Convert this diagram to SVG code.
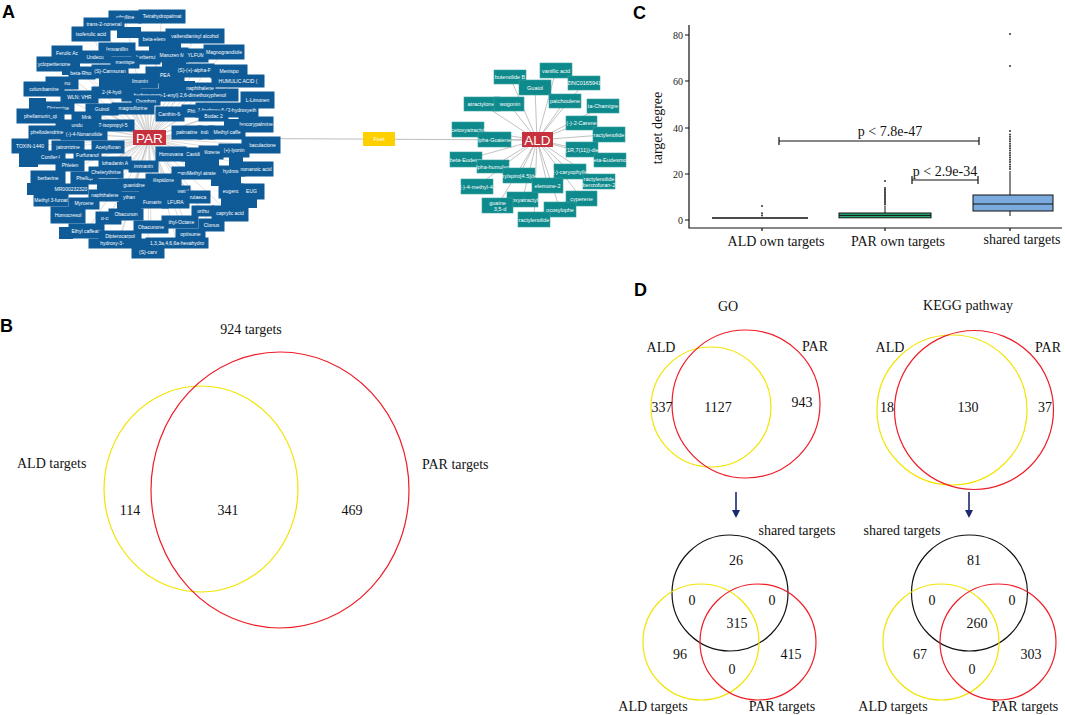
<svg xmlns="http://www.w3.org/2000/svg" width="1065" height="715" viewBox="0 0 1065 715">
<style>
.pb{fill:#0f5b97;stroke:#0f5b97;stroke-width:3}
.pf{fill:#0f5b97;stroke:#0f5b97;stroke-width:2}
.ab{fill:#0f8a8c;stroke:#3aa0a2;stroke-width:0.6}
.nt{fill:#fff;font-family:"Liberation Sans",Arial,sans-serif;font-size:5px;text-anchor:middle}
.at{fill:#fff;font-family:"Liberation Sans",Arial,sans-serif;font-size:5.5px;text-anchor:middle}
.hub{fill:#c7313d}
.ht{fill:#fff;font-family:"Liberation Sans",Arial,sans-serif;font-size:13.5px;text-anchor:middle}
.e line{stroke:#c6c6c6;stroke-width:0.6}
.ea line{stroke:#b2b2b2;stroke-width:0.8}
.lbl{font-family:"Liberation Sans",Arial,sans-serif;font-weight:bold;font-size:18px;fill:#000}
.s{font-family:"Liberation Serif","Times New Roman",serif;font-size:14px;fill:#111}
.t{font-family:"Liberation Serif","Times New Roman",serif;font-size:10px;fill:#222;text-anchor:end}
.c{text-anchor:middle}
.vy{fill:none;stroke:#f2e400;stroke-width:1.2}
.vr{fill:none;stroke:#ee1d27;stroke-width:1.2}
.vk{fill:none;stroke:#111;stroke-width:1.2}
.ax{stroke:#111;stroke-width:1.2;fill:none}
.dot{fill:#333}
</style>
<defs>
<marker id="ah" viewBox="0 0 10 10" refX="5" refY="5" markerWidth="5" markerHeight="5" orient="auto"><path d="M0 0L10 5L0 10z" fill="#1c2870"/></marker>
</defs>

<text class="lbl" x="2" y="18">A</text>
<text class="lbl" x="0" y="332">B</text>
<text class="lbl" x="633" y="19">C</text>
<text class="lbl" x="634" y="296">D</text>

<g id="connectors">
<line x1="160" y1="138" x2="530" y2="140" stroke="#bdbdbd" stroke-width="1"/>
<g class="e">
<line x1="149" y1="138" x2="125" y2="17"/><line x1="149" y1="138" x2="162" y2="16.5"/><line x1="149" y1="138" x2="104" y2="24"/><line x1="149" y1="138" x2="91" y2="34"/><line x1="149" y1="138" x2="158" y2="39"/><line x1="149" y1="138" x2="195" y2="36"/><line x1="149" y1="138" x2="117" y2="49.5"/><line x1="149" y1="138" x2="67" y2="53.5"/><line x1="149" y1="138" x2="95" y2="57"/><line x1="149" y1="138" x2="146" y2="57.5"/><line x1="149" y1="138" x2="172" y2="55"/><line x1="149" y1="138" x2="196" y2="55.5"/><line x1="149" y1="138" x2="224" y2="52"/><line x1="149" y1="138" x2="54" y2="64"/><line x1="149" y1="138" x2="125" y2="62.5"/><line x1="149" y1="138" x2="82" y2="73"/><line x1="149" y1="138" x2="110" y2="71.5"/><line x1="149" y1="138" x2="165" y2="75"/><line x1="149" y1="138" x2="195" y2="70.5"/><line x1="149" y1="138" x2="229" y2="71.5"/><line x1="149" y1="138" x2="238" y2="81"/><line x1="149" y1="138" x2="62" y2="83"/><line x1="149" y1="138" x2="44" y2="89"/><line x1="149" y1="138" x2="140" y2="81"/><line x1="149" y1="138" x2="79.5" y2="97"/><line x1="149" y1="138" x2="116" y2="92.5"/><line x1="149" y1="138" x2="200" y2="87.5"/><line x1="149" y1="138" x2="180" y2="95"/><line x1="149" y1="138" x2="146" y2="100"/><line x1="149" y1="138" x2="257.5" y2="100"/><line x1="149" y1="138" x2="58" y2="108"/><line x1="149" y1="138" x2="102" y2="109.5"/><line x1="149" y1="138" x2="133" y2="108"/><line x1="149" y1="138" x2="170" y2="114"/><line x1="149" y1="138" x2="193" y2="111"/><line x1="149" y1="138" x2="227" y2="110"/><line x1="149" y1="138" x2="213.5" y2="116"/><line x1="149" y1="138" x2="40.5" y2="116"/><line x1="149" y1="138" x2="86.5" y2="117.5"/><line x1="149" y1="138" x2="256" y2="124.5"/><line x1="149" y1="138" x2="77" y2="125"/><line x1="149" y1="138" x2="113" y2="125.5"/><line x1="149" y1="138" x2="84" y2="134"/><line x1="149" y1="138" x2="47" y2="132.5"/><line x1="149" y1="138" x2="187" y2="132.5"/><line x1="149" y1="138" x2="206" y2="132.5"/><line x1="149" y1="138" x2="227" y2="132.5"/><line x1="149" y1="138" x2="30" y2="146"/><line x1="149" y1="138" x2="68" y2="147"/><line x1="149" y1="138" x2="108" y2="147"/><line x1="149" y1="138" x2="261" y2="145"/><line x1="149" y1="138" x2="234" y2="150.5"/><line x1="149" y1="138" x2="211" y2="152.5"/><line x1="149" y1="138" x2="193" y2="154.5"/><line x1="149" y1="138" x2="171" y2="154"/><line x1="149" y1="138" x2="50.5" y2="157.5"/><line x1="149" y1="138" x2="87.5" y2="155"/><line x1="149" y1="138" x2="70" y2="165"/><line x1="149" y1="138" x2="115" y2="163"/><line x1="149" y1="138" x2="143.5" y2="166.5"/><line x1="149" y1="138" x2="196.5" y2="173"/><line x1="149" y1="138" x2="232" y2="171"/><line x1="149" y1="138" x2="256" y2="169"/><line x1="149" y1="138" x2="48" y2="178"/><line x1="149" y1="138" x2="84.5" y2="178"/><line x1="149" y1="138" x2="106" y2="172.5"/><line x1="149" y1="138" x2="163.5" y2="180"/><line x1="149" y1="138" x2="134" y2="185"/><line x1="149" y1="138" x2="71" y2="189"/><line x1="149" y1="138" x2="105" y2="195.5"/><line x1="149" y1="138" x2="231" y2="191"/><line x1="149" y1="138" x2="251.5" y2="191.5"/><line x1="149" y1="138" x2="183" y2="191.5"/><line x1="149" y1="138" x2="198" y2="197"/><line x1="149" y1="138" x2="51" y2="200"/><line x1="149" y1="138" x2="84" y2="203.5"/><line x1="149" y1="138" x2="129" y2="197"/><line x1="149" y1="138" x2="153.5" y2="202"/><line x1="149" y1="138" x2="175.5" y2="202"/><line x1="149" y1="138" x2="68" y2="215"/><line x1="149" y1="138" x2="108.5" y2="218"/><line x1="149" y1="138" x2="126" y2="214.5"/><line x1="149" y1="138" x2="203" y2="211"/><line x1="149" y1="138" x2="230" y2="213.5"/><line x1="149" y1="138" x2="180" y2="222"/><line x1="149" y1="138" x2="211.5" y2="225"/><line x1="149" y1="138" x2="151" y2="227"/><line x1="149" y1="138" x2="86.5" y2="231"/><line x1="149" y1="138" x2="120" y2="236.5"/><line x1="149" y1="138" x2="119" y2="243"/><line x1="149" y1="138" x2="177" y2="242.5"/><line x1="149" y1="138" x2="190.5" y2="234.5"/><line x1="149" y1="138" x2="148" y2="252"/>
</g>
<g class="ea">
<line x1="537" y1="140" x2="510" y2="77"/><line x1="537" y1="140" x2="556" y2="70.5"/><line x1="537" y1="140" x2="535" y2="87.5"/><line x1="537" y1="140" x2="584" y2="83"/><line x1="537" y1="140" x2="482" y2="104"/><line x1="537" y1="140" x2="509" y2="104"/><line x1="537" y1="140" x2="565" y2="101"/><line x1="537" y1="140" x2="603" y2="106"/><line x1="537" y1="140" x2="581.5" y2="123"/><line x1="537" y1="140" x2="609" y2="134.5"/><line x1="537" y1="140" x2="582" y2="149.5"/><line x1="537" y1="140" x2="610" y2="160"/><line x1="537" y1="140" x2="468" y2="129.5"/><line x1="537" y1="140" x2="494.5" y2="139.5"/><line x1="537" y1="140" x2="466" y2="159.5"/><line x1="537" y1="140" x2="493" y2="166.5"/><line x1="537" y1="140" x2="477" y2="186.5"/><line x1="537" y1="140" x2="519" y2="175.5"/><line x1="537" y1="140" x2="570" y2="171.5"/><line x1="537" y1="140" x2="599" y2="181.5"/><line x1="537" y1="140" x2="547.5" y2="185.5"/><line x1="537" y1="140" x2="522.5" y2="199.5"/><line x1="537" y1="140" x2="497.5" y2="205.5"/><line x1="537" y1="140" x2="581.5" y2="198.5"/><line x1="537" y1="140" x2="560" y2="209.5"/><line x1="537" y1="140" x2="534" y2="219.5"/>
</g>
<line x1="736" y1="492" x2="736" y2="514" stroke="#1c2870" stroke-width="1.6" marker-end="url(#ah)"/>
<line x1="969" y1="492" x2="969" y2="514" stroke="#1c2870" stroke-width="1.6" marker-end="url(#ah)"/>
</g>

<g id="par-fill">
<rect class="pf" x="150" y="43" width="30" height="8"/>
<rect class="pf" x="118" y="28" width="22" height="9"/>
<rect class="pf" x="30" y="99" width="15" height="10"/>
<rect class="pf" x="160" y="82" width="34" height="7"/>
<rect class="pf" x="100" y="77" width="22" height="11"/>
<rect class="pf" x="163" y="59" width="22" height="8"/>
<rect class="pf" x="20" y="154" width="17" height="12"/>
<rect class="pf" x="28" y="184" width="26" height="10"/>
<rect class="pf" x="98" y="180" width="22" height="10"/>
<rect class="pf" x="118" y="203" width="22" height="8"/>
<rect class="pf" x="140" y="187" width="36" height="9"/>
<rect class="pf" x="212" y="175" width="28" height="10"/>
<rect class="pf" x="222" y="197" width="34" height="10"/>
<rect class="pf" x="60" y="228" width="12" height="10"/>
<rect class="pf" x="186" y="160" width="32" height="8"/>
<rect class="pf" x="225" y="120" width="16" height="12"/>
<rect class="pf" x="63" y="62" width="16" height="12"/>
<rect class="pf" x="230" y="157" width="12" height="10"/>
</g>

<g id="par-nodes">
<g id="p1"><rect class="pb" x="110" y="12" width="30" height="10"/><text class="nt" x="125" y="18.8">ethylline</text></g>
<g id="p2"><rect class="pb" x="140" y="11" width="44" height="11"/><text class="nt" x="162" y="18.3">Tetrahydropalmat</text></g>
<g id="p3"><rect class="pb" x="85" y="19" width="38" height="10"/><text class="nt" x="104" y="25.8">trans-2-nonenal</text></g>
<g id="p4"><rect class="pb" x="73" y="28" width="36" height="12"/><text class="nt" x="91" y="35.8">isoferulic acid</text></g>
<g id="p5"><rect class="pb" x="140" y="33" width="36" height="12"/><text class="nt" x="158" y="40.8">beta-elemene</text></g>
<g id="p6"><rect class="pb" x="167" y="30" width="56" height="12"/><text class="nt" x="195" y="37.8">valtendianisyl alcohol</text></g>
<g id="p7"><rect class="pb" x="100" y="44" width="34" height="11"/><text class="nt" x="117" y="51.3">Isovanillin</text></g>
<g id="p8"><rect class="pb" x="53" y="47" width="28" height="13"/><text class="nt" x="67" y="55.3">Ferulic Ac</text></g>
<g id="p9"><rect class="pb" x="80" y="52" width="30" height="10"/><text class="nt" x="95" y="58.8">Undecu</text></g>
<g id="p10"><rect class="pb" x="133" y="52" width="26" height="11"/><text class="nt" x="146" y="59.3">berberrul</text></g>
<g id="p11"><rect class="pb" x="157" y="49" width="30" height="12"/><text class="nt" x="172" y="56.8">Maruzen M</text></g>
<g id="p12"><rect class="pb" x="185" y="50" width="22" height="11"/><text class="nt" x="196" y="57.3">YLFUM</text></g>
<g id="p13"><rect class="pb" x="205" y="46" width="38" height="12"/><text class="nt" x="224" y="53.8">Magnograndiole</text></g>
<g id="p14"><rect class="pb" x="38" y="58" width="32" height="12"/><text class="nt" x="54" y="65.8">ycloperitenone</text></g>
<g id="p15"><rect class="pb" x="112" y="58" width="26" height="9"/><text class="nt" x="125" y="64.3">menispe</text></g>
<g id="p16"><rect class="pb" x="70" y="68" width="24" height="10"/><text class="nt" x="82" y="74.8">beta-Rhod</text></g>
<g id="p17"><rect class="pb" x="93" y="66" width="34" height="11"/><text class="nt" x="110" y="73.3">(S)-Camsuran</text></g>
<g id="p18"><rect class="pb" x="147" y="68" width="36" height="14"/><text class="nt" x="165" y="76.8">PEA</text></g>
<g id="p19"><rect class="pb" x="177" y="65" width="36" height="11"/><text class="nt" x="195" y="72.3">(S)-(+)-alpha-Pi</text></g>
<g id="p20"><rect class="pb" x="212" y="66" width="34" height="11"/><text class="nt" x="229" y="73.3">Menispo</text></g>
<g id="p21"><rect class="pb" x="213" y="76" width="50" height="10"/><text class="nt" x="238" y="82.8">HUMULIC ACID (</text></g>
<g id="p22"><rect class="pb" x="47" y="78" width="30" height="10"/><text class="nt" x="62" y="84.8">paeonu</text></g>
<g id="p23"><rect class="pb" x="25" y="83" width="38" height="12"/><text class="nt" x="44" y="90.8">columbamine</text></g>
<g id="p24"><rect class="pb" x="123" y="75" width="34" height="12"/><text class="nt" x="140" y="82.8">limonin</text></g>
<g id="p25"><rect class="pb" x="62" y="92" width="35" height="10"/><text class="nt" x="79.5" y="98.8">WLN: VHR</text></g>
<g id="p26"><rect class="pb" x="93" y="88" width="46" height="9"/><text class="nt" x="116" y="94.3">2-(4-hydroxy</text></g>
<g id="p28"><rect class="pb" x="123" y="90" width="114" height="10"/><text class="nt" x="180" y="97.3">hydroxyprop-1-enyl) 2,6-dimethoxyphenol</text></g>
<g id="p27"><rect class="pb" x="186" y="84" width="28" height="7"/><text class="nt" x="200" y="89.6">naphthalene</text></g>
<g id="p29"><rect class="pb" x="133" y="97" width="26" height="7"/><text class="nt" x="146" y="102.8">Oxophon</text></g>
<g id="p30"><rect class="pb" x="242" y="93" width="31" height="14"/><text class="nt" x="257.5" y="101.8">L-Limonen</text></g>
<g id="p31"><rect class="pb" x="43" y="103" width="30" height="10"/><text class="nt" x="58" y="109.8">Dictamine</text></g>
<g id="p32"><rect class="pb" x="87" y="105" width="30" height="9"/><text class="nt" x="102" y="111.3">Guinol</text></g>
<g id="p33"><rect class="pb" x="113" y="104" width="40" height="9"/><text class="nt" x="133" y="110.3">magnoflorine</text></g>
<g id="p34"><rect class="pb" x="157" y="108" width="26" height="12"/><text class="nt" x="170" y="115.8">Canthin-6-</text></g>
<g id="p35"><rect class="pb" x="183" y="106" width="20" height="10"/><text class="nt" x="193" y="112.8">Phlor</text></g>
<g id="p36"><rect class="pb" x="197" y="104" width="60" height="12"/><text class="nt" x="227" y="111.8">1-hydroxy-6-(2-hydroxyeth</text></g>
<g id="p37"><rect class="pb" x="200" y="112" width="27" height="8"/><text class="nt" x="213.5" y="117.8">Bodac 2</text></g>
<g id="p38"><rect class="pb" x="18" y="110" width="45" height="12"/><text class="nt" x="40.5" y="117.8">phellamurin_qt</text></g>
<g id="p39"><rect class="pb" x="73" y="113" width="27" height="9"/><text class="nt" x="86.5" y="119.3">Mnk</text></g>
<g id="p40"><rect class="pb" x="240" y="118" width="32" height="13"/><text class="nt" x="256" y="126.3">Isocorypalmine</text></g>
<g id="p41"><rect class="pb" x="57" y="121" width="40" height="8"/><text class="nt" x="77" y="126.8">undu</text></g>
<g id="p42"><rect class="pb" x="93" y="121" width="40" height="9"/><text class="nt" x="113" y="127.3">7-isopropyl-5</text></g>
<g id="p43"><rect class="pb" x="62" y="129" width="44" height="10"/><text class="nt" x="84" y="135.8">(-)-4-Nonanolide</text></g>
<g id="p44"><rect class="pb" x="30" y="127" width="34" height="11"/><text class="nt" x="47" y="134.3">phellodendrine</text></g>
<g id="p45"><rect class="pb" x="173" y="127" width="28" height="11"/><text class="nt" x="187" y="134.3">palmatine</text></g>
<g id="p46"><rect class="pb" x="199" y="127" width="14" height="11"/><text class="nt" x="206" y="134.3">indol</text></g>
<g id="p47"><rect class="pb" x="210" y="127" width="34" height="11"/><text class="nt" x="227" y="134.3">Methyl caffe</text></g>
<g id="p48"><rect class="pb" x="13" y="140" width="34" height="12"/><text class="nt" x="30" y="147.8">TOXIN-1440</text></g>
<g id="p49"><rect class="pb" x="53" y="142" width="30" height="10"/><text class="nt" x="68" y="148.8">jatrorrizine</text></g>
<g id="p50"><rect class="pb" x="93" y="142" width="30" height="10"/><text class="nt" x="108" y="148.8">Acetylfuran</text></g>
<g id="p51"><rect class="pb" x="243" y="138" width="36" height="14"/><text class="nt" x="261" y="146.8">obaculactone</text></g>
<g id="p52"><rect class="pb" x="220" y="145" width="28" height="11"/><text class="nt" x="234" y="152.3">(+)-lyonin</text></g>
<g id="p53"><rect class="pb" x="200" y="147" width="22" height="11"/><text class="nt" x="211" y="154.3">Worene</text></g>
<g id="p54"><rect class="pb" x="183" y="149" width="20" height="11"/><text class="nt" x="193" y="156.3">Cavidi</text></g>
<g id="p55"><rect class="pb" x="157" y="148" width="28" height="12"/><text class="nt" x="171" y="155.8">Homovana</text></g>
<g id="p56"><rect class="pb" x="37" y="152" width="27" height="11"/><text class="nt" x="50.5" y="159.3">Conifer-l</text></g>
<g id="p57"><rect class="pb" x="75" y="151" width="25" height="8"/><text class="nt" x="87.5" y="156.8">Furfuranol</text></g>
<g id="p58"><rect class="pb" x="57" y="160" width="26" height="10"/><text class="nt" x="70" y="166.8">Phleien</text></g>
<g id="p59"><rect class="pb" x="100" y="158" width="30" height="10"/><text class="nt" x="115" y="164.8">lohadanin A</text></g>
<g id="p60"><rect class="pb" x="130" y="162" width="27" height="9"/><text class="nt" x="143.5" y="168.3">immanin</text></g>
<g id="p61"><rect class="pb" x="173" y="168" width="47" height="10"/><text class="nt" x="196.5" y="174.8">gamMethyl atrate</text></g>
<g id="p62"><rect class="pb" x="220" y="167" width="24" height="8"/><text class="nt" x="232" y="172.8">hydroso</text></g>
<g id="p63"><rect class="pb" x="240" y="163" width="32" height="12"/><text class="nt" x="256" y="170.8">nonanoic acid</text></g>
<g id="p64"><rect class="pb" x="32" y="172" width="32" height="12"/><text class="nt" x="48" y="179.8">berberine</text></g>
<g id="p65"><rect class="pb" x="72" y="173" width="25" height="10"/><text class="nt" x="84.5" y="179.8">Phellop</text></g>
<g id="p66"><rect class="pb" x="90" y="168" width="32" height="9"/><text class="nt" x="106" y="174.3">Chelerythrine</text></g>
<g id="p67"><rect class="pb" x="147" y="175" width="33" height="10"/><text class="nt" x="163.5" y="181.8">ilispidone</text></g>
<g id="p68"><rect class="pb" x="120" y="180" width="28" height="10"/><text class="nt" x="134" y="186.8">guanidine</text></g>
<g id="p69"><rect class="pb" x="55" y="185" width="32" height="8"/><text class="nt" x="71" y="190.8">MR000232320</text></g>
<g id="p70"><rect class="pb" x="90" y="191" width="30" height="9"/><text class="nt" x="105" y="197.3">naphthalene</text></g>
<g id="p71"><rect class="pb" x="220" y="185" width="22" height="12"/><text class="nt" x="231" y="192.8">eugenc</text></g>
<g id="p72"><rect class="pb" x="240" y="185" width="23" height="13"/><text class="nt" x="251.5" y="193.3">EUG</text></g>
<g id="p73"><rect class="pb" x="177" y="187" width="12" height="9"/><text class="nt" x="183" y="193.3">vwial</text></g>
<g id="p74"><rect class="pb" x="187" y="192" width="22" height="10"/><text class="nt" x="198" y="198.8">rutaeca</text></g>
<g id="p75"><rect class="pb" x="35" y="195" width="32" height="10"/><text class="nt" x="51" y="201.8">Methyl 3-furoat</text></g>
<g id="p76"><rect class="pb" x="70" y="199" width="28" height="9"/><text class="nt" x="84" y="205.3">Myrcene</text></g>
<g id="p77"><rect class="pb" x="120" y="193" width="18" height="8"/><text class="nt" x="129" y="198.8">ythan</text></g>
<g id="p78"><rect class="pb" x="140" y="197" width="27" height="10"/><text class="nt" x="153.5" y="203.8">Fumarine</text></g>
<g id="p79"><rect class="pb" x="163" y="197" width="25" height="10"/><text class="nt" x="175.5" y="203.8">LFURA</text></g>
<g id="p80"><rect class="pb" x="52" y="208" width="32" height="14"/><text class="nt" x="68" y="216.8">Homocresol</text></g>
<g id="p81"><rect class="pb" x="97" y="213" width="23" height="10"/><text class="nt" x="108.5" y="219.8">o-cresl</text></g>
<g id="p82"><rect class="pb" x="110" y="210" width="32" height="9"/><text class="nt" x="126" y="216.3">Obacunon</text></g>
<g id="p83"><rect class="pb" x="193" y="207" width="20" height="8"/><text class="nt" x="203" y="212.8">orthu</text></g>
<g id="p84"><rect class="pb" x="213" y="207" width="34" height="13"/><text class="nt" x="230" y="215.3">caprylic acid</text></g>
<g id="p85"><rect class="pb" x="163" y="217" width="34" height="10"/><text class="nt" x="180" y="223.8">ethyl-Octane</text></g>
<g id="p86"><rect class="pb" x="200" y="220" width="23" height="10"/><text class="nt" x="211.5" y="226.8">Clonus</text></g>
<g id="p87"><rect class="pb" x="135" y="222" width="32" height="10"/><text class="nt" x="151" y="228.8">Obacunone</text></g>
<g id="p88"><rect class="pb" x="70" y="225" width="33" height="12"/><text class="nt" x="86.5" y="232.8">Ethyl caffeate</text></g>
<g id="p89"><rect class="pb" x="100" y="232" width="40" height="9"/><text class="nt" x="120" y="238.3">Dipterocarpol</text></g>
<g id="p90"><rect class="pb" x="90" y="240" width="56" height="7"/><text class="nt" x="112" y="245.3">hydroxy-3-</text></g>
<g id="p91"><rect class="pb" x="147" y="239" width="60" height="8"/><text class="nt" x="177" y="244.8">1,3,3a,4,6,6a-hexahydro</text></g>
<g id="p92"><rect class="pb" x="177" y="230" width="27" height="8"/><text class="nt" x="190.5" y="235.8">optisume</text></g>
<g id="p93"><rect class="pb" x="133" y="248" width="30" height="9"/><text class="nt" x="148" y="254.3">(S)-carv</text></g>
</g>

<g id="par-hub"><rect class="hub" x="133" y="130" width="33" height="15"/><text class="ht" x="149.5" y="142.5">PAR</text></g>
<g id="fuet"><rect x="363" y="132" width="32" height="14" fill="#ffd000"/><text class="at" x="379" y="141">Fuet</text></g>

<g id="ald-nodes">
<g id="a1"><rect class="ab" x="494" y="70" width="32" height="14"/><text class="at" x="510" y="79">butenolide B</text></g>
<g id="a2"><rect class="ab" x="540" y="63" width="32" height="15"/><text class="at" x="556" y="72.5">vanillic acid</text></g>
<g id="a3"><rect class="ab" x="519" y="80" width="32" height="15"/><text class="at" x="535" y="89.5">Guaiol</text></g>
<g id="a4"><rect class="ab" x="568" y="76" width="32" height="14"/><text class="at" x="584" y="85">ZINC0165941</text></g>
<g id="a5"><rect class="ab" x="464" y="97" width="36" height="14"/><text class="at" x="481" y="106">atractylone</text></g>
<g id="a6"><rect class="ab" x="494" y="97" width="30" height="14"/><text class="at" x="510" y="106">wogonin</text></g>
<g id="a7"><rect class="ab" x="549" y="94" width="32" height="14"/><text class="at" x="565" y="103">patchoulene</text></g>
<g id="a8"><rect class="ab" x="587" y="99" width="32" height="14"/><text class="at" x="603" y="108">ta-Chamigre</text></g>
<g id="a9"><rect class="ab" x="566" y="116" width="31" height="14"/><text class="at" x="581.5" y="125">(-)-2-Carene</text></g>
<g id="a10"><rect class="ab" x="593" y="127" width="32" height="15"/><text class="at" x="609" y="136.5">ractylenolide</text></g>
<g id="a11"><rect class="ab" x="566" y="142" width="32" height="15"/><text class="at" x="582" y="151.5">(1R,7(11))-die</text></g>
<g id="a12"><rect class="ab" x="594" y="153" width="32" height="14"/><text class="at" x="610" y="162">eta-Eudesmo</text></g>
<g id="a13"><rect class="ab" x="452" y="122" width="32" height="15"/><text class="at" x="468" y="131.5">cetoxyatractyl</text></g>
<g id="a14"><rect class="ab" x="478" y="132" width="33" height="15"/><text class="at" x="494.5" y="141.5">lpha-Guaiene</text></g>
<g id="a15"><rect class="ab" x="450" y="152" width="32" height="15"/><text class="at" x="466" y="161.5">beta-Eudesm</text></g>
<g id="a16"><rect class="ab" x="477" y="160" width="32" height="13"/><text class="at" x="493" y="168.5">lpha-humulen</text></g>
<g id="a17"><rect class="ab" x="461" y="179" width="32" height="15"/><text class="at" x="477" y="188.5">(-)-4-methyl-4-</text></g>
<g id="a18"><rect class="ab" x="503" y="168" width="32" height="15"/><text class="at" x="519" y="177.5">hylspiro[4.5]de</text></g>
<g id="a19"><rect class="ab" x="554" y="164" width="32" height="15"/><text class="at" x="570" y="173.5">(-)-caryophylle</text></g>
<g id="a20"><rect class="ab" x="583" y="174" width="32" height="15"/><text class="at" x="599" y="180.5">ractylenolide</text><text class="at" x="599" y="186.5">benzofuran-2</text></g>
<g id="a21"><rect class="ab" x="532" y="178" width="31" height="15"/><text class="at" x="547.5" y="187.5">elemone-2</text></g>
<g id="a22"><rect class="ab" x="507" y="192" width="31" height="15"/><text class="at" x="522.5" y="201.5">etoxyatractyl</text></g>
<g id="a23"><rect class="ab" x="482" y="198" width="31" height="15"/><text class="at" x="497.5" y="204.5">guaine</text><text class="at" x="500" y="210.5">3,5-d</text></g>
<g id="a24"><rect class="ab" x="566" y="191" width="31" height="15"/><text class="at" x="581.5" y="200.5">cyperene</text></g>
<g id="a25"><rect class="ab" x="544" y="202" width="32" height="15"/><text class="at" x="560" y="211.5">ocosylophe</text></g>
<g id="a26"><rect class="ab" x="518" y="212" width="32" height="15"/><text class="at" x="534" y="221.5">ractylenolide</text></g>
</g>
<g id="ald-hub"><rect class="hub" x="522" y="132" width="31" height="15"/><text class="ht" x="537.5" y="144.5">ALD</text></g>

<g id="panel-b">
<ellipse class="vy" cx="201" cy="489" rx="97" ry="103"/>
<ellipse class="vr" cx="280" cy="490" rx="129" ry="138"/>
<text class="s c" x="251" y="334">924 targets</text>
<text class="s" x="17" y="468">ALD targets</text>
<text class="s" x="422" y="469">PAR targets</text>
<text class="s c" x="130" y="515">114</text>
<text class="s c" x="228" y="515">341</text>
<text class="s c" x="352" y="515">469</text>
</g>

<g id="panel-c">
<path class="ax" d="M689 25V228H1062"/>
<path class="ax" d="M685 220H689M685 174H689M685 128H689M685 81H689M685 35H689M762 228V231M885 228V231M1010 228V231" stroke-width="1"/>
<text class="t" x="683" y="223.5">0</text>
<text class="t" x="683" y="177.5">20</text>
<text class="t" x="683" y="131.5">40</text>
<text class="t" x="683" y="84.5">60</text>
<text class="t" x="683" y="38.5">80</text>
<text class="s c" transform="translate(662 128) rotate(-90)" x="0" y="0">target degree</text>
<text class="s c" x="776" y="246">ALD own targets</text>
<text class="s c" x="898" y="246">PAR own targets</text>
<text class="s c" x="1022" y="244">shared targets</text>
<g id="box-ald"><line x1="712" y1="218" x2="808" y2="218" stroke="#111" stroke-width="1.6"/>
<circle class="dot" cx="762" cy="206" r="1"/><circle class="dot" cx="762" cy="213.2" r="1"/><circle class="dot" cx="762" cy="215.4" r="1"/></g>
<g id="box-par"><line x1="885" y1="206" x2="885" y2="213" stroke="#111"/><rect x="839" y="213" width="92" height="4.8" fill="#2aa876" stroke="#111"/><line x1="839" y1="215.4" x2="931" y2="215.4" stroke="#111"/>
<circle class="dot" cx="885" cy="204.5" r="1"/><circle class="dot" cx="885" cy="203" r="1"/><circle class="dot" cx="885" cy="201.5" r="1"/><circle class="dot" cx="885" cy="200" r="1"/><circle class="dot" cx="885" cy="198.5" r="1"/><circle class="dot" cx="885" cy="197" r="1"/><circle class="dot" cx="885" cy="195.5" r="1"/><circle class="dot" cx="885" cy="194" r="1"/><circle class="dot" cx="885" cy="192.5" r="1"/><circle class="dot" cx="885" cy="191" r="1"/><circle class="dot" cx="885" cy="189.5" r="1"/><circle class="dot" cx="885" cy="188" r="1"/><circle class="dot" cx="885" cy="181" r="1"/></g>
<g id="box-shared"><line x1="1010" y1="171" x2="1010" y2="216" stroke="#111"/><rect x="973" y="195" width="80" height="16" fill="#7aaade" stroke="#111"/><line x1="973" y1="204" x2="1053" y2="204" stroke="#111"/>
<circle class="dot" cx="1010" cy="169" r="1"/><circle class="dot" cx="1010" cy="166.7" r="1"/><circle class="dot" cx="1010" cy="164.4" r="1"/><circle class="dot" cx="1010" cy="162.1" r="1"/><circle class="dot" cx="1010" cy="159.8" r="1"/><circle class="dot" cx="1010" cy="157.5" r="1"/><circle class="dot" cx="1010" cy="155.2" r="1"/><circle class="dot" cx="1010" cy="152.9" r="1"/><circle class="dot" cx="1010" cy="150.6" r="1"/><circle class="dot" cx="1010" cy="148.3" r="1"/><circle class="dot" cx="1010" cy="146" r="1"/><circle class="dot" cx="1010" cy="143.7" r="1"/><circle class="dot" cx="1010" cy="141.3" r="1"/><circle class="dot" cx="1010" cy="139" r="1"/><circle class="dot" cx="1010" cy="136.7" r="1"/><circle class="dot" cx="1010" cy="134.4" r="1"/><circle class="dot" cx="1010" cy="131" r="1"/><circle class="dot" cx="1010" cy="66" r="1"/><circle class="dot" cx="1010" cy="34" r="1"/></g>
<path class="ax" d="M779 137V145M779 141H979M979 137V145M912 176V184M912 180H978M978 176V184" stroke-width="1.3"/>
<text class="s c" x="890" y="136">p &lt; 7.8e-47</text>
<text class="s c" x="945" y="176">p &lt; 2.9e-34</text>
</g>

<g id="panel-d-go">
<text class="s c" x="728" y="311">GO</text>
<circle class="vy" cx="711" cy="407" r="60"/>
<circle class="vr" cx="746" cy="404" r="74"/>
<text class="s c" x="661" y="352">ALD</text>
<text class="s c" x="815" y="351">PAR</text>
<text class="s c" x="662" y="412">337</text>
<text class="s c" x="718" y="412">1127</text>
<text class="s c" x="802" y="407">943</text>
</g>
<g id="panel-d-go2">
<circle class="vk" cx="730" cy="593" r="58"/>
<circle class="vy" cx="701" cy="642" r="58"/>
<circle class="vr" cx="758" cy="642" r="58"/>
<text class="s c" x="797" y="535">shared targets</text>
<text class="s c" x="736" y="565">26</text>
<text class="s c" x="692" y="605">0</text>
<text class="s c" x="772" y="605">0</text>
<text class="s c" x="737" y="628">315</text>
<text class="s c" x="680" y="659">96</text>
<text class="s c" x="791" y="659">415</text>
<text class="s c" x="732" y="674">0</text>
<text class="s c" x="653" y="711">ALD targets</text>
<text class="s c" x="782" y="711">PAR targets</text>
</g>
<g id="panel-d-kegg">
<text class="s c" x="968" y="310">KEGG pathway</text>
<circle class="vy" cx="952" cy="410" r="75"/>
<circle class="vr" cx="974" cy="410" r="79.5"/>
<text class="s c" x="890" y="352">ALD</text>
<text class="s c" x="1048" y="352">PAR</text>
<text class="s c" x="887" y="412">18</text>
<text class="s c" x="968" y="412">130</text>
<text class="s c" x="1045" y="412">37</text>
</g>
<g id="panel-d-kegg2">
<circle class="vk" cx="969.5" cy="593" r="58"/>
<circle class="vy" cx="941" cy="642" r="58"/>
<circle class="vr" cx="998" cy="642" r="58"/>
<text class="s c" x="902" y="535">shared targets</text>
<text class="s c" x="974" y="565">81</text>
<text class="s c" x="932" y="605">0</text>
<text class="s c" x="1012" y="605">0</text>
<text class="s c" x="977" y="628">260</text>
<text class="s c" x="920" y="659">67</text>
<text class="s c" x="1031" y="659">303</text>
<text class="s c" x="972" y="674">0</text>
<text class="s c" x="893" y="711">ALD targets</text>
<text class="s c" x="1025" y="711">PAR targets</text>
</g>
</svg>
